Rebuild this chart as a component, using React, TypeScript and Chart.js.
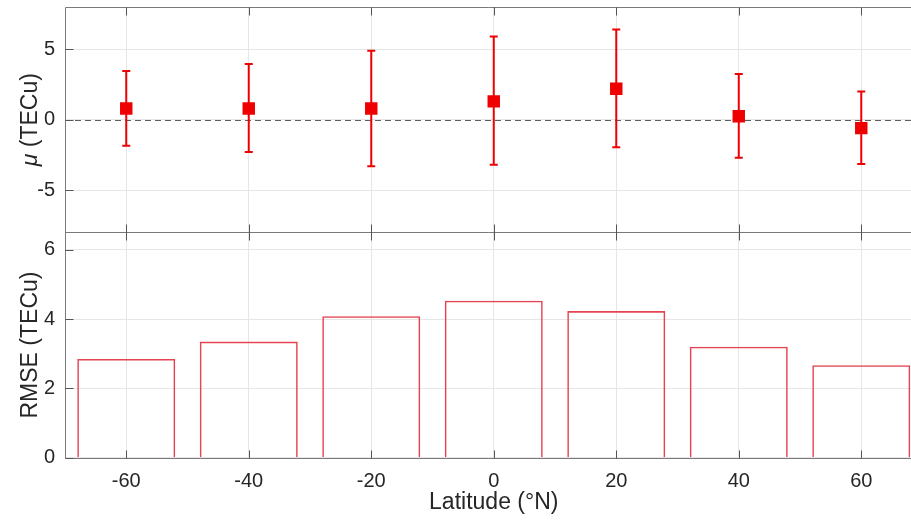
import React, { useEffect, useRef } from "react";
import { Chart, registerables } from "chart.js";

Chart.register(...registerables);

// Latitude bands (°N)
const latitudes = [-60, -40, -20, 0, 20, 40, 60];
// Mean bias μ per band and its ±1σ bounds (TECu)
const meanBias = [0.8, 0.8, 0.8, 1.3, 2.2, 0.25, -0.6];
const biasLower = [-1.85, -2.3, -3.3, -3.2, -1.95, -2.7, -3.15];
const biasUpper = [3.45, 3.95, 4.9, 5.9, 6.4, 3.25, 2.0];
// RMSE per band (TECu)
const rmse = [2.85, 3.35, 4.08, 4.53, 4.23, 3.2, 2.67];

// Tick positions
const xTicks = [-60, -40, -20, 0, 20, 40, 60];
const biasTicks = [-5, 0, 5];
const rmseTicks = [0, 2, 4, 6];

const FONT = "'Liberation Sans', Arial, Helvetica, sans-serif";
const TEXT = "#262626";
const FRAME = "#7a7a7a";
const TICK = "#555555";
const GRID = "#e6e6e6";
const RED = "#ee0000";
const BAR_EDGE = "#e5434f";

const TICK_LEN = 8;

const setTicks = (vals: number[]) => (scale: any) => {
  scale.ticks = vals.map((v) => ({ value: v }));
};

// fixed box size and no extra label padding around the plot area
const fixBox = (dims: { width?: number; height?: number }) => (scale: any) => {
  if (dims.width !== undefined) scale.width = dims.width;
  if (dims.height !== undefined) scale.height = dims.height;
  scale.paddingTop = 0;
  scale.paddingBottom = 0;
  scale.paddingLeft = 0;
  scale.paddingRight = 0;
};

const panelPlugin = {
  id: "panelFrame",
  beforeDatasetsDraw(chart: any) {
    const { ctx, chartArea, scales } = chart;
    const xs = scales.x;
    const yT = scales.yT;

    // zero reference line in the bias panel
    ctx.save();
    ctx.strokeStyle = "#5e5e5e";
    ctx.lineWidth = 1;
    ctx.setLineDash([6, 4]);
    const y0 = Math.round(yT.getPixelForValue(0)) + 0.5;
    ctx.beginPath();
    ctx.moveTo(chartArea.left, y0);
    ctx.lineTo(chartArea.right, y0);
    ctx.stroke();
    ctx.restore();

    // ±σ error bars
    ctx.save();
    ctx.strokeStyle = RED;
    ctx.lineWidth = 2;
    latitudes.forEach((lat, i) => {
      const x = xs.getPixelForValue(lat);
      const yl = yT.getPixelForValue(biasLower[i]);
      const yh = yT.getPixelForValue(biasUpper[i]);
      ctx.beginPath();
      ctx.moveTo(x, yl);
      ctx.lineTo(x, yh);
      ctx.moveTo(x - 4, yl);
      ctx.lineTo(x + 4, yl);
      ctx.moveTo(x - 4, yh);
      ctx.lineTo(x + 4, yh);
      ctx.stroke();
    });
    ctx.restore();
  },
  afterDraw(chart: any) {
    const { ctx, chartArea, scales } = chart;
    const xs = scales.x;
    const yT = scales.yT;
    const yB = scales.yB;
    const L = chartArea.left + 0.5;
    const R = chartArea.right;
    const top = Math.round(yT.top) + 0.5;
    const mid = Math.round(yT.bottom) + 0.5;
    const bot = Math.round(yB.bottom) + 0.5;

    ctx.save();
    ctx.lineWidth = 1;
    // panel frames
    ctx.strokeStyle = FRAME;
    ctx.beginPath();
    ctx.moveTo(L, top);
    ctx.lineTo(R, top);
    ctx.moveTo(L, mid);
    ctx.lineTo(R, mid);
    ctx.moveTo(L, bot);
    ctx.lineTo(R, bot);
    ctx.moveTo(L, top);
    ctx.lineTo(L, bot);
    ctx.stroke();

    // inward tick marks
    ctx.strokeStyle = TICK;
    ctx.beginPath();
    xTicks.forEach((v) => {
      const x = Math.round(xs.getPixelForValue(v)) + 0.5;
      ctx.moveTo(x, top);
      ctx.lineTo(x, top + TICK_LEN);
      ctx.moveTo(x, mid - TICK_LEN);
      ctx.lineTo(x, mid + TICK_LEN);
      ctx.moveTo(x, bot);
      ctx.lineTo(x, bot - TICK_LEN);
    });
    biasTicks.forEach((v) => {
      const y = Math.round(yT.getPixelForValue(v)) + 0.5;
      ctx.moveTo(L, y);
      ctx.lineTo(L + TICK_LEN, y);
    });
    rmseTicks.forEach((v) => {
      const y = Math.round(yB.getPixelForValue(v)) + 0.5;
      ctx.moveTo(L, y);
      ctx.lineTo(L + TICK_LEN, y);
    });
    ctx.stroke();
    ctx.restore();

    // axis titles
    ctx.save();
    ctx.fillStyle = TEXT;
    const titleFont = `23px ${FONT}`;
    const italicFont = `italic 23px ${FONT}`;
    const baseX = 37;

    // μ (TECu) with italic μ
    ctx.save();
    ctx.translate(baseX, (yT.top + yT.bottom) / 2);
    ctx.rotate(-Math.PI / 2);
    ctx.textBaseline = "alphabetic";
    ctx.font = italicFont;
    const mu = "μ";
    const muW = ctx.measureText(mu).width;
    ctx.font = titleFont;
    const rest = " (TECu)";
    const restW = ctx.measureText(rest).width;
    const total = muW + restW;
    ctx.font = italicFont;
    ctx.textAlign = "left";
    ctx.fillText(mu, -total / 2, 0);
    ctx.font = titleFont;
    ctx.fillText(rest, -total / 2 + muW, 0);
    ctx.restore();

    ctx.save();
    ctx.translate(baseX, (yB.top + yB.bottom) / 2);
    ctx.rotate(-Math.PI / 2);
    ctx.textBaseline = "alphabetic";
    ctx.textAlign = "center";
    ctx.font = titleFont;
    ctx.fillText("RMSE (TECu)", 0, 0);
    ctx.restore();

    ctx.font = titleFont;
    ctx.textAlign = "center";
    ctx.textBaseline = "alphabetic";
    ctx.fillText("Latitude (°N)", xs.getPixelForValue(0), xs.top + 51);
    ctx.restore();
  },
};

export default function App() {
  const canvasRef = useRef<HTMLCanvasElement | null>(null);

  useEffect(() => {
    const canvas = canvasRef.current;
    if (!canvas) return;

    const tickFont = { family: FONT, size: 20 };

    const chart = new Chart(canvas, {
      type: "scatter",
      data: {
        datasets: [
          {
            type: "scatter",
            label: "μ",
            data: latitudes.map((x, i) => ({ x, y: meanBias[i] })),
            xAxisID: "x",
            yAxisID: "yT",
            pointStyle: "rect",
            pointRadius: 8.8,
            pointHoverRadius: 8.8,
            pointBorderWidth: 0,
            backgroundColor: RED,
            borderColor: RED,
            order: 0,
          } as any,
          {
            type: "bar",
            label: "RMSE",
            data: latitudes.map((x, i) => ({ x, y: rmse[i] })),
            xAxisID: "x",
            yAxisID: "yB",
            backgroundColor: "rgba(255,255,255,0)",
            borderColor: BAR_EDGE,
            borderWidth: 1.6,
            barPercentage: 0.8,
            categoryPercentage: 1,
            order: 1,
          } as any,
        ],
      },
      options: {
        animation: false,
        responsive: true,
        maintainAspectRatio: false,
        events: [],
        layout: { autoPadding: false, padding: { top: 7, right: 0, bottom: 0, left: 0 } },
        plugins: {
          legend: { display: false },
          tooltip: { enabled: false },
        },
        scales: {
          x: {
            type: "linear",
            position: "bottom",
            min: -70,
            max: 68.12,
            offset: false,
            afterBuildTicks: setTicks(xTicks),
            afterFit: fixBox({ height: 63.3 }),
            grid: { color: GRID, lineWidth: 1, drawTicks: false, offset: false },
            border: { display: false },
            ticks: {
              font: tickFont,
              color: TEXT,
              padding: 12,
              maxRotation: 0,
              autoSkip: false,
            },
          },
          yB: {
            type: "linear",
            position: "left",
            stack: "panels",
            stackWeight: 1,
            min: 0,
            max: 6.5,
            afterBuildTicks: setTicks(rmseTicks),
            afterFit: fixBox({ width: 65 }),
            grid: { color: GRID, lineWidth: 1, drawTicks: false },
            border: { display: false },
            ticks: { font: tickFont, color: TEXT, padding: 10 },
          },
          yT: {
            type: "linear",
            position: "left",
            stack: "panels",
            stackWeight: 1,
            min: -8,
            max: 8,
            afterBuildTicks: setTicks(biasTicks),
            afterFit: fixBox({ width: 65 }),
            grid: { color: GRID, lineWidth: 1, drawTicks: false },
            border: { display: false },
            ticks: { font: tickFont, color: TEXT, padding: 10 },
          },
        },
      } as any,
      plugins: [panelPlugin],
    });

    return () => chart.destroy();
  }, []);

  return (
    <div style={{ position: "fixed", left: 0, top: 0, width: 911, height: 521, background: "#fff" }}>
      <canvas ref={canvasRef} />
    </div>
  );
}
